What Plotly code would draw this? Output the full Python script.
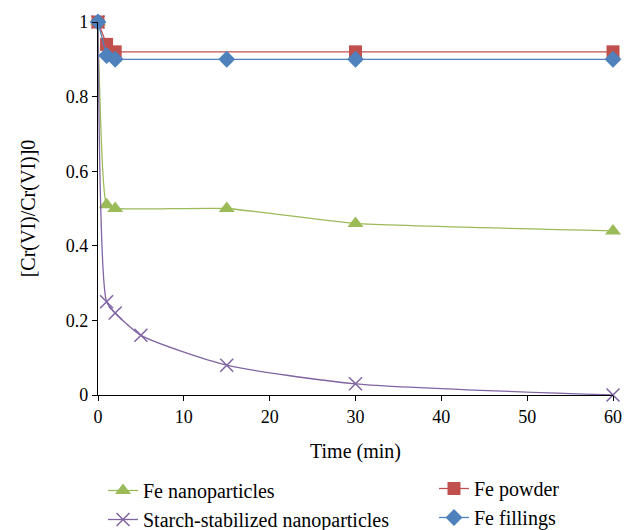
import plotly.graph_objects as go

nano_t = [0, 1, 2, 15, 30, 60]
nano_v = [1.0, 0.51, 0.50, 0.50, 0.46, 0.44]

starch_t = [0, 1, 2, 5, 15, 30, 60]
starch_v = [1.0, 0.25, 0.22, 0.16, 0.08, 0.03, 0.0]

powder_t = [0, 1, 2, 30, 60]
powder_v = [1.0, 0.94, 0.92, 0.92, 0.92]

fill_t = [0, 1, 2, 15, 30, 60]
fill_v = [1.0, 0.91, 0.90, 0.90, 0.90, 0.90]

FONT = "Liberation Serif"

fig = go.Figure()
fig.add_trace(go.Scatter(x=nano_t, y=nano_v, name="Fe nanoparticles", mode="lines+markers",
                         line=dict(color="#9BBB59", width=1.3, shape="spline", smoothing=0.45),
                         marker=dict(symbol="triangle-up", size=14, color="#9BBB59"),
                         cliponaxis=False, legend="legend"))
fig.add_trace(go.Scatter(x=starch_t, y=starch_v, name="Starch-stabilized nanoparticles", mode="lines+markers",
                         line=dict(color="#8064A2", width=1.3, shape="spline", smoothing=0.6),
                         marker=dict(symbol="x-thin", size=13, color="#8064A2",
                                     line=dict(color="#8064A2", width=1.5)),
                         cliponaxis=False, legend="legend"))
fig.add_trace(go.Scatter(x=powder_t, y=powder_v, name="Fe powder", mode="lines+markers",
                         line=dict(color="#C0504D", width=1.3),
                         marker=dict(symbol="square", size=13, color="#C0504D"),
                         cliponaxis=False, legend="legend2"))
fig.add_trace(go.Scatter(x=fill_t, y=fill_v, name="Fe fillings", mode="lines+markers",
                         line=dict(color="#4F81BD", width=1.3),
                         marker=dict(symbol="diamond", size=13, color="#4F81BD"),
                         cliponaxis=False, legend="legend2"))

L, R, T, B = 98, 14, 22, 135
PW, PH = 627 - L - R, 530 - T - B

axis_common = dict(showgrid=False, zeroline=False, showline=True, linecolor="black", linewidth=1.2,
                   ticks="outside", ticklen=5, tickcolor="black", automargin=False)

fig.update_layout(
    width=627, height=530,
    margin=dict(l=L, r=R, t=T, b=B, autoexpand=False),
    paper_bgcolor="white", plot_bgcolor="white",
    font=dict(family=FONT, size=18, color="black"),
    xaxis=dict(range=[0, 60], dtick=10,
               tickfont=dict(family=FONT, size=18, color="black"),
               title=dict(text="Time (min)", font=dict(family=FONT, size=20), standoff=18),
               **axis_common),
    yaxis=dict(range=[0, 1], tickvals=[0, 0.2, 0.4, 0.6, 0.8, 1], ticktext=["0", "0.2", "0.4", "0.6", "0.8", "1"],
               tickfont=dict(family=FONT, size=18, color="black"),
               title=dict(text="[Cr(VI)/Cr(VI)]0", font=dict(family=FONT, size=20), standoff=24), **axis_common),
    legend=dict(x=(103 - L) / PW, y=-(471 - 395) / PH, xanchor="left", yanchor="top",
                bgcolor="rgba(0,0,0,0)", font=dict(family=FONT, size=20), tracegroupgap=0),
    legend2=dict(x=(434 - L) / PW, y=-(469 - 395) / PH, xanchor="left", yanchor="top",
                 bgcolor="rgba(0,0,0,0)", font=dict(family=FONT, size=20), tracegroupgap=0),
    showlegend=True,
)

fig.write_html("out.html")
